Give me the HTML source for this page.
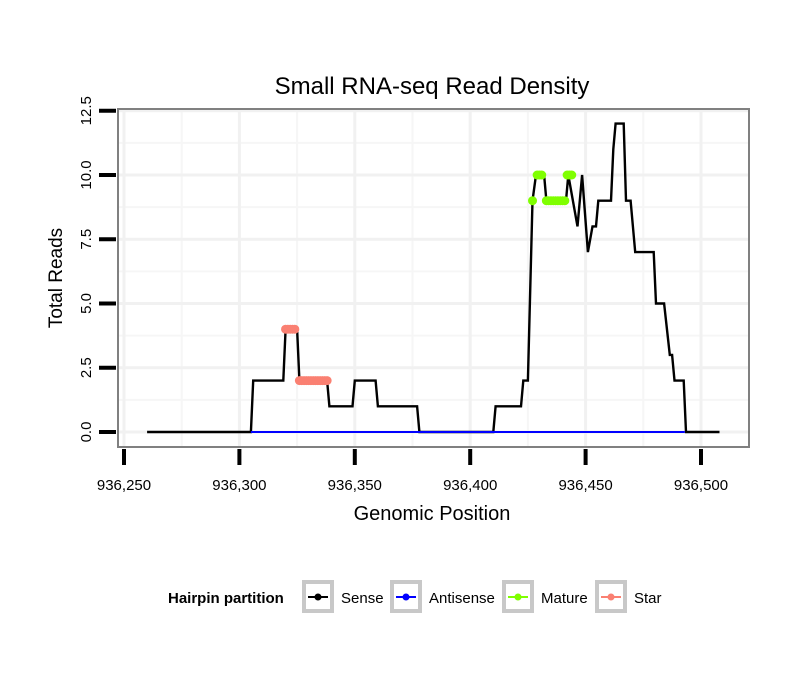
<!DOCTYPE html>
<html><head><meta charset="utf-8"><style>
body{margin:0;background:#fff}
svg text{font-family:"Liberation Sans",sans-serif}
</style></head><body>
<svg id="chart" width="810" height="690" xmlns="http://www.w3.org/2000/svg">
<text x="432" y="94" font-size="24" text-anchor="middle">Small RNA-seq Read Density</text>
<g id="grid"></g>
<g id="series"></g>
<rect x="118" y="109" width="631" height="338" fill="none" stroke="#808080" stroke-width="2"/>
<g id="axes"></g>
<text x="432" y="520" font-size="20" text-anchor="middle">Genomic Position</text>
<text transform="translate(62,278) rotate(-90)" font-size="19" text-anchor="middle">Total Reads</text>
<g>
<text x="168" y="603" font-size="15" font-weight="bold">Hairpin partition</text>
<g id="legend"></g>
</g>
</svg>
<script>
const xTicks=[936250,936300,936350,936400,936450,936500];
const xTickLabels=["936,250","936,300","936,350","936,400","936,450","936,500"];
const yTicks=[0,2.5,5,7.5,10,12.5];
const yTickLabels=["0.0","2.5","5.0","7.5","10.0","12.5"];
const sensePos=[936260,936305,936306,936319,936320,936325,936326,936338,936339,936349,936350,936359,936360,936377,936378,936410,936411,936422,936423,936425,936427,936428.5,936432,936433,936441.5,936442.5,936446.5,936448.5,936451,936453,936454.5,936455.5,936461,936462,936463,936466.5,936467.5,936469.5,936471.5,936479.5,936480.5,936484,936486.5,936487.5,936488.5,936492.5,936493.5,936508];
const senseVal=[0,0,2,2,4,4,2,2,1,1,2,2,1,1,0,0,1,1,2,2,9,10,10,9,9,10,8,10,7,8,8,9,9,11,12,12,9,9,7,7,5,5,3,3,2,2,0,0];
const antiPos=[936305,936493];
const antiVal=[0,0];
const maturePos=[936427,936429,936430,936431,936433,936434,936435,936436,936437,936438,936439,936440,936441,936442,936443,936444];
const matureVal=[9,10,10,10,9,9,9,9,9,9,9,9,9,10,10,10];
const starPos=[936320,936321,936322,936323,936324,936326,936327,936328,936329,936330,936331,936332,936333,936334,936335,936336,936337,936338];
const starVal=[4,4,4,4,4,2,2,2,2,2,2,2,2,2,2,2,2,2];
const legendLabels=["Sense","Antisense","Mature","Star"];
const legendColors=["#000000","#0000ff","#7fff00","#fa8072"];

const NS="http://www.w3.org/2000/svg";
const X=v=>124+(v-936250)*577/250;
const Y=v=>432-v*25.7;
function mk(tag,attrs,parent){const e=document.createElementNS(NS,tag);for(const k in attrs)e.setAttribute(k,attrs[k]);parent.appendChild(e);return e;}
const grid=document.getElementById('grid'),axes=document.getElementById('axes'),ser=document.getElementById('series'),leg=document.getElementById('legend');
for(let i=0;i<xTicks.length;i++){
  const m=xTicks[i]+25; if(X(m)<749){const l=mk('line',{x1:X(m),x2:X(m),y1:110,y2:446,stroke:'#f6f6f6','stroke-width':2},grid);
  
  }
}
for(let i=0;i<yTicks.length;i++){
  const m=yTicks[i]+1.25; if(Y(m)>110){const l=mk('line',{x1:119,x2:748,y1:Y(m),y2:Y(m),stroke:'#f6f6f6','stroke-width':2},grid);
  
  }
}
xTicks.forEach((t,i)=>{
  const g=mk('line',{x1:X(t),x2:X(t),y1:110,y2:446,stroke:'#f1f1f1','stroke-width':3},grid);
  
  
  const k=mk('line',{x1:X(t),x2:X(t),y1:449,y2:465,stroke:'#000','stroke-width':4},axes);
  
  
  const tx=mk('text',{x:X(t),y:490,'font-size':15,'text-anchor':'middle'},axes);tx.textContent=xTickLabels[i];
  
  
});
yTicks.forEach((t,i)=>{
  const g=mk('line',{x1:119,x2:748,y1:Y(t),y2:Y(t),stroke:'#f1f1f1','stroke-width':3},grid);
  
  
  const k=mk('line',{x1:99,x2:116,y1:Y(t),y2:Y(t),stroke:'#000','stroke-width':4},axes);
  
  
  const tx=mk('text',{transform:`translate(91,${Y(t)}) rotate(-90)`,'font-size':15,'text-anchor':'middle'},axes);tx.textContent=yTickLabels[i];
  
  
});
function pts(P,V){return P.map((p,i)=>X(p).toFixed(1)+','+Y(V[i]).toFixed(1)).join(' ');}
const sl=mk('polyline',{points:pts(sensePos,senseVal),fill:'none',stroke:'#000','stroke-width':2.4},ser);


const al=mk('polyline',{points:pts(antiPos,antiVal),fill:'none',stroke:'#0000ff','stroke-width':2},ser);


function dots(P,V,c,name){
  for(let i=0;i<P.length;i++){
    if(i>0&&V[i]===V[i-1]&&P[i]-P[i-1]<=1.5){const s=mk('line',{x1:X(P[i-1]),x2:X(P[i]),y1:Y(V[i]),y2:Y(V[i]),stroke:c,'stroke-width':8},ser);
      
      }
    const d=mk('circle',{cx:X(P[i]),cy:Y(V[i]),r:4.5,fill:c},ser);
    
    
  }
}
dots(maturePos,matureVal,'#7fff00','mature');
dots(starPos,starVal,'#fa8072','star');
const bx=[302,390,502,595],tx=[341,429,541,634];
legendLabels.forEach((lab,i)=>{
  const r=mk('rect',{x:bx[i]+2,y:582,width:28,height:29,fill:'#fff',stroke:'#c8c8c8','stroke-width':4},leg);
  
  
  const l=mk('line',{x1:bx[i]+6,x2:bx[i]+26,y1:597,y2:597,stroke:legendColors[i],'stroke-width':2},leg);
  
  
  const c=mk('circle',{cx:bx[i]+16,cy:597,r:3.5,fill:legendColors[i]},leg);
  
  
  const t=mk('text',{x:tx[i],y:603,'font-size':15},leg);t.textContent=lab;
  
  
});
</script>
</body></html>
